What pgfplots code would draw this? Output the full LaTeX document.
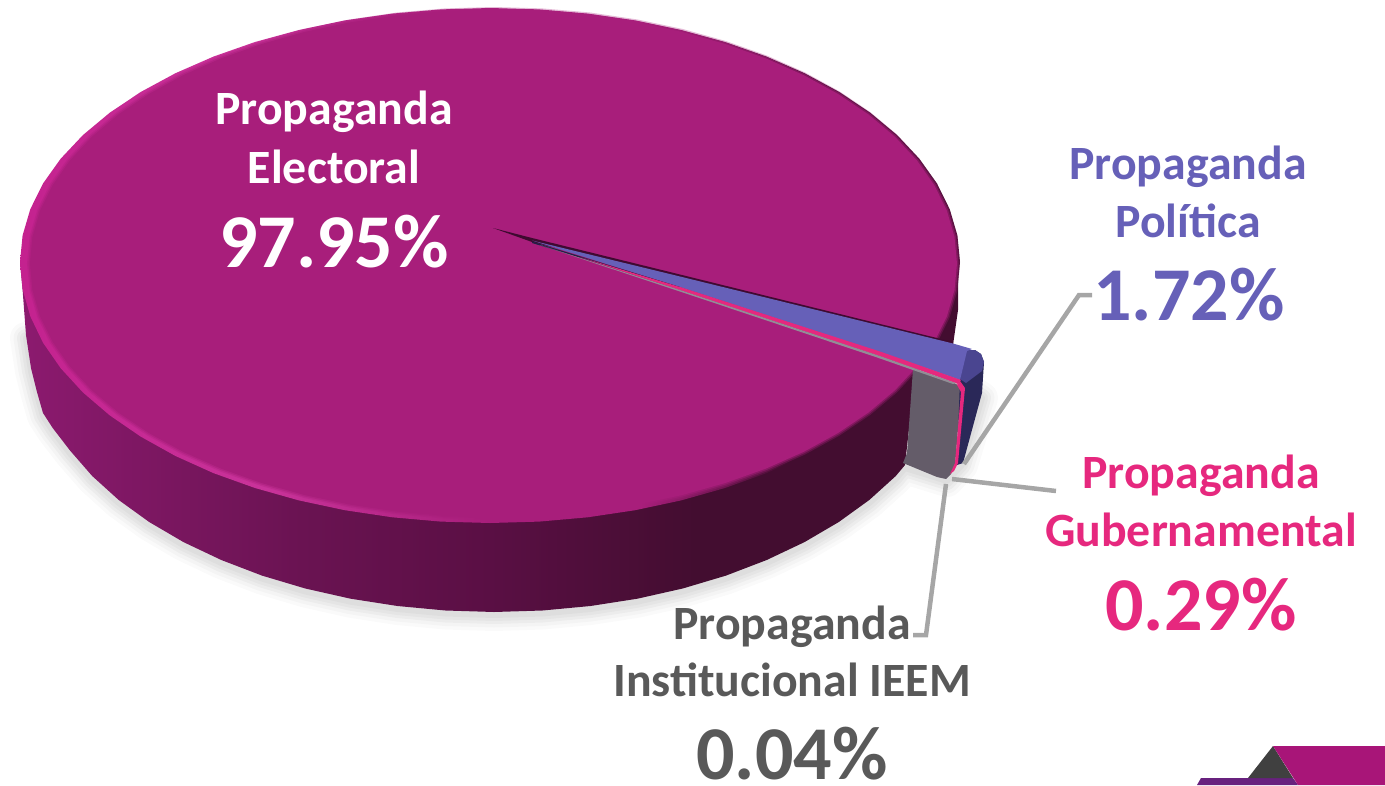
\documentclass[border=0pt]{standalone}
\usepackage{pgfplots}
\pgfplotsset{compat=1.18}
\usepackage{pgfplotstable}
\usepackage{fontspec}
\setmainfont{Carlito}
\definecolor{face}{HTML}{A81E7B}
\definecolor{rimL}{HTML}{C4228F}
\definecolor{rimH}{HTML}{C9339A}
\definecolor{rimD}{HTML}{430D30}
\definecolor{sideA}{HTML}{8C1A6F}
\definecolor{sideB}{HTML}{6A1352}
\definecolor{sideC}{HTML}{5A0F44}
\definecolor{sideD}{HTML}{430D30}
\definecolor{lav}{HTML}{6660B8}
\definecolor{lavM}{HTML}{4A4590}
\definecolor{navy}{HTML}{2A2858}
\definecolor{pnk}{HTML}{E6287E}
\definecolor{gry}{HTML}{645C69}
\definecolor{txtg}{HTML}{595959}
\definecolor{leader}{HTML}{A6A6A6}
\definecolor{decoM}{HTML}{A81578}
\definecolor{decoP}{HTML}{68217E}
\definecolor{decoG}{HTML}{404040}
\pgfdeclarehorizontalshading{rimsh}{100bp}{color(0bp)=(rimL); color(25bp)=(rimL); color(38bp)=(rimH); color(50bp)=(face); color(58bp)=(face); color(66bp)=(rimD); color(100bp)=(rimD)}
\pgfdeclarehorizontalshading{sidesh}{100bp}{color(0bp)=(sideA); color(25bp)=(sideA); color(40bp)=(sideB); color(50bp)=(sideC); color(61bp)=(sideD); color(100bp)=(sideD)}
\pgfplotstableread{
x y
960 262
957.4 289.3
949.7 316.3
937 342.7
919.3 368.2
897 392.5
870.2 415.4
839.3 436.6
804.5 456
766.3 473.2
725 488
681.1 500.4
635.2 510.2
587.7 517.3
539.1 521.6
490 523
440.9 521.6
392.3 517.3
344.8 510.2
298.9 500.4
255 488
213.7 473.2
175.5 456
140.7 436.6
109.8 415.4
83 392.5
60.7 368.2
43 342.7
30.3 316.3
22.6 289.3
20 262
22.6 235.4
30.3 209.2
43 183.5
60.7 158.7
83 135
109.8 112.7
140.7 92
175.5 73.2
213.7 56.5
255 42
298.9 30
344.8 20.4
392.3 13.6
440.9 9.4
490 8
539.1 9.4
587.7 13.6
635.2 20.4
681.1 30
725 42
766.3 56.5
804.5 73.2
839.3 92
870.2 112.7
897 135
919.3 158.7
937 183.5
949.7 209.2
957.4 235.4
960 262
}\outerrim
\pgfplotstableread{
x y
957 263.5
954.5 290
946.9 316.2
934.3 341.8
916.9 366.6
894.9 390.3
868.5 412.5
837.9 433.1
803.6 451.9
765.9 468.6
725.3 483
682 495.1
636.7 504.6
589.9 511.5
541.9 515.6
493.5 517
445.1 515.6
397.1 511.5
350.3 504.6
305 495.1
261.7 483
221.1 468.6
183.4 451.9
149.1 433.1
118.5 412.5
92.1 390.3
70.1 366.6
52.7 341.8
40.1 316.2
32.5 290
30 263.5
32.5 237
40.1 210.8
52.7 185.2
70.1 160.4
92.1 136.7
118.5 114.5
149.1 93.9
183.4 75.1
221.1 58.4
261.7 44
305 31.9
350.3 22.4
397.1 15.5
445.1 11.4
493.5 10
541.9 11.4
589.9 15.5
636.7 22.4
682 31.9
725.3 44
765.9 58.4
803.6 75.1
837.9 93.9
868.5 114.5
894.9 136.7
916.9 160.4
934.3 185.2
946.9 210.8
954.5 237
957 263.5
}\innerface
\pgfplotstableread{
x y
20 262
22.6 290
26 335
31 368
37 392
43 413
52.7 428
70.1 450.6
92.2 476
118.6 499.9
149.2 522
183.5 542.1
221.3 560
262 575.6
305.3 588.5
350.6 598.7
397.5 606
445.5 610.5
494 612
542.5 610.5
590.5 606
637.4 598.7
682.7 588.5
726 575.6
766.7 560
804.5 542.1
838.8 522
869.4 499.9
895.8 476
905 465
915 375
930 350
953 345
958 310
958 270
500 200
}\sidewall
\pgfplotstableread{
x y
26 335
31 368
37 392
43 413
52.7 428
70.1 450.6
92.2 476
118.6 499.9
149.2 522
183.5 542.1
221.3 560
262 575.6
305.3 588.5
350.6 598.7
397.5 606
445.5 610.5
494 612
542.5 610.5
590.5 606
637.4 598.7
682.7 588.5
726 575.6
766.7 560
804.5 542.1
838.8 522
869.4 499.9
895.8 476
905 465
947 478
962 462
982 395
900 340
500 340
}\shadowpoly
\begin{document}
\begin{tikzpicture}
\begin{axis}[
  anchor=south west, at={(0,0)},
  width=1385pt, height=785pt, scale only axis,
  hide axis, xmin=0, xmax=1385, ymin=0, ymax=785, y dir=reverse
]
% soft shadow
\addplot[draw=black, line width=32pt, draw opacity=.02, line join=round, line cap=round, yshift=-3pt] table {\shadowpoly};
\addplot[draw=black, line width=25pt, draw opacity=.025, line join=round, line cap=round, yshift=-3pt] table {\shadowpoly};
\addplot[draw=black, line width=18pt, draw opacity=.03, line join=round, line cap=round, yshift=-3pt] table {\shadowpoly};
\addplot[draw=black, line width=12pt, draw opacity=.03, line join=round, line cap=round, yshift=-3pt] table {\shadowpoly};
\addplot[draw=black, line width=6pt, draw opacity=.03, line join=round, line cap=round, yshift=-3pt] table {\shadowpoly};
% body
\addplot[draw=none, shading=sidesh] table {\sidewall};
\addplot[draw=none, shading=rimsh] table {\outerrim};
\addplot[draw=face, line width=6pt, draw opacity=.3, fill=none] table {\innerface};
\addplot[draw=face, line width=3pt, draw opacity=.5, fill=face] table {\innerface};
% grey wall
\addplot[draw=none, fill=gry] coordinates {(913,369) (952,382) (958,385) (961,392) (955,466) (951,474) (946,479) (937,477) (903,463) (907,453)};
% navy wall
\addplot[draw=none, fill=navy] coordinates {(960,378) (975,350) (981,354) (984,362) (982,393) (963,463) (957,465)};
\addplot[draw=none, fill=lavM] coordinates {(966,350) (975,350) (981,354) (984,362) (982,371) (966,383) (960,379)};
% pink wall
\addplot[draw=none, fill=pnk] coordinates {(960,381) (965,388) (958,463) (954,471) (950,474) (955,463) (961,392) (957,385)};
% tops
\addplot[draw=none, fill=sideC!70!black] coordinates {(493,228) (532,238) (680,274.5) (953,342) (953,345) (680,277.5) (532,242)};
\addplot[draw=none, fill=lav] coordinates {(532,240.5) (680,276.5) (953,343.5) (972,349) (967,351) (960,380) (880,352) (680,287)};
\addplot[draw=none, fill=navy!80!black] coordinates {(532,241.5) (680,287) (680,288) (532,243)};
\addplot[draw=none, fill=pnk] coordinates {(580,257) (680,287) (880,351.5) (961,380) (958,384) (880,356) (680,290)};
\addplot[draw=none, fill=gry!70!white] coordinates {(540,245) (680,290) (880,356) (956,383) (953,384) (880,358.5) (680,291.5)};
% leaders
\addplot[draw=leader, line width=4.5pt, line join=miter] coordinates {(1092,295) (1079,295) (964,464)};
\addplot[draw=leader, line width=4.5pt] coordinates {(952,479) (1056,491)};
\addplot[draw=leader, line width=4.5pt, line join=miter] coordinates {(946,484) (926,635) (913,635)};
% corner decoration
\addplot[draw=none, fill=decoP] coordinates {(1197,785) (1201,778) (1293,778) (1298,785)};
\addplot[draw=none, fill=decoG] coordinates {(1273,746) (1248,778) (1293,778)};
\addplot[draw=none, fill=decoM] coordinates {(1273,746) (1385,746) (1385,785) (1298,785)};
% labels
\newcommand\sm{\fontsize{47.8}{47.8}\selectfont\bfseries}
\newcommand\bg{\fontsize{76}{76}\selectfont\bfseries}
\node[anchor=base, text=white, inner sep=0pt] at (axis cs:334,124) {\sm Propaganda};
\node[anchor=base, text=white, inner sep=0pt] at (axis cs:334,183) {\sm Electoral};
\node[anchor=base, text=white, inner sep=0pt] at (axis cs:334,267) {\bg 97.95\%};
\node[anchor=base, text=lav, inner sep=0pt] at (axis cs:1188,179) {\sm Propaganda};
\node[anchor=base, text=lav, inner sep=0pt] at (axis cs:1188,237) {\sm Política};
\node[anchor=base, text=lav, inner sep=0pt] at (axis cs:1189,320) {\bg 1.72\%};
\node[anchor=base, text=pnk, inner sep=0pt] at (axis cs:1201,488) {\sm Propaganda};
\node[anchor=base, text=pnk, inner sep=0pt] at (axis cs:1201,546) {\sm Gubernamental};
\node[anchor=base, text=pnk, inner sep=0pt] at (axis cs:1201,630) {\bg 0.29\%};
\node[anchor=base, text=txtg, inner sep=0pt] at (axis cs:792,639) {\sm Propaganda};
\node[anchor=base, text=txtg, inner sep=0pt] at (axis cs:792,696) {\sm Institucional IEEM};
\node[anchor=base, text=txtg, inner sep=0pt] at (axis cs:792,779) {\bg 0.04\%};
\end{axis}
\pgfresetboundingbox
\useasboundingbox (0,0) rectangle (1385pt,785pt);
\end{tikzpicture}
\end{document}
